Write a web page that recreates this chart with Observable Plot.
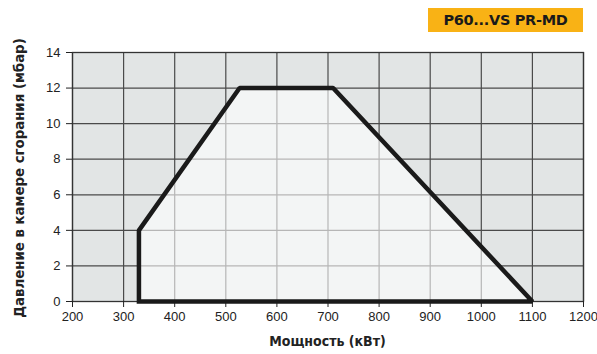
<!DOCTYPE html>
<html>
<head>
<meta charset="utf-8">
<script src="https://cdn.jsdelivr.net/npm/d3@7"></script>
<script src="https://cdn.jsdelivr.net/npm/@observablehq/plot@0.6"></script>
<style>
  html, body { margin: 0; padding: 0; background: #fff; }
  #wrap { position: relative; width: 597px; height: 354px; }
  #badge {
    position: absolute; left: 428px; top: 8px; width: 155px; height: 24px;
    background: #f9b215; color: #1a1a1a;
    font: bold 14.5px "DejaVu Sans", "Liberation Sans", Arial, sans-serif;
    display: flex; align-items: center; justify-content: center; letter-spacing: -0.3px;
  }
  #xlabel {
    position: absolute; left: 0; width: 655px; top: 333px; text-align: center;
    font: bold 14px "DejaVu Sans Condensed", "Open Sans", sans-serif; color: #222;
  }
  #ylabel {
    position: absolute; left: 18px; top: 178px; transform: translate(-50%, -50%) rotate(-90deg);
    white-space: nowrap;
    font: bold 14.8px "DejaVu Sans Condensed", "Open Sans", sans-serif; color: #222;
  }
</style>
</head>
<body>
<div id="wrap">
  <div id="badge">P60...VS PR-MD</div>
  <div id="xlabel">Мощность (кВт)</div>
  <div id="ylabel">Давление в камере сгорания (мбар)</div>
</div>
<script>
// Working range polygon (power kW, pressure mbar)
const powerKW = [330, 330, 527, 710, 1100];
const pressureMbar = [0, 4, 12, 12, 0];
const xTicks = [200, 300, 400, 500, 600, 700, 800, 900, 1000, 1100, 1200];
const yTicks = [0, 2, 4, 6, 8, 10, 12, 14];

const pts = powerKW.map((x, i) => ({x, y: pressureMbar[i]}));
const closed = [...pts, pts[0]];

const chart = Plot.plot({
  width: 597,
  height: 354,
  marginLeft: 72,
  marginRight: 14,
  marginTop: 52,
  marginBottom: 53,
  style: {fontFamily: "'Liberation Sans', Arial, sans-serif", fontSize: "13px", color: "#222", background: "transparent"},
  x: {domain: [200, 1200]},
  y: {domain: [0, 14]},
  marks: [
    Plot.frame({fill: "#e2e5e5", stroke: null}),
    Plot.gridX(xTicks, {stroke: "#4a4a4a", strokeOpacity: 1, strokeWidth: 1.2}),
    Plot.gridY(yTicks, {stroke: "#4a4a4a", strokeOpacity: 1, strokeWidth: 1.2}),
    Plot.areaY(pts, {x: "x", y: "y", fill: "#ffffff", fillOpacity: 0.6, curve: "linear"}),
    Plot.frame({stroke: "#333", strokeWidth: 1.3}),
    Plot.axisX(xTicks, {tickSize: 6, tickPadding: 4, label: null, stroke: "#222", tickFormat: d => String(d)}),
    Plot.axisY(yTicks, {tickSize: 6, tickPadding: 6, label: null, stroke: "#222", tickFormat: d => String(d)}),
    Plot.line(closed, {x: "x", y: "y", stroke: "#1a1a1a", strokeWidth: 4.5, strokeLinejoin: "miter", strokeLinecap: "square"})
  ]
});
chart.style.position = "absolute";
chart.style.left = "0";
chart.style.top = "0";
document.getElementById("wrap").prepend(chart);
</script>
</body>
</html>
